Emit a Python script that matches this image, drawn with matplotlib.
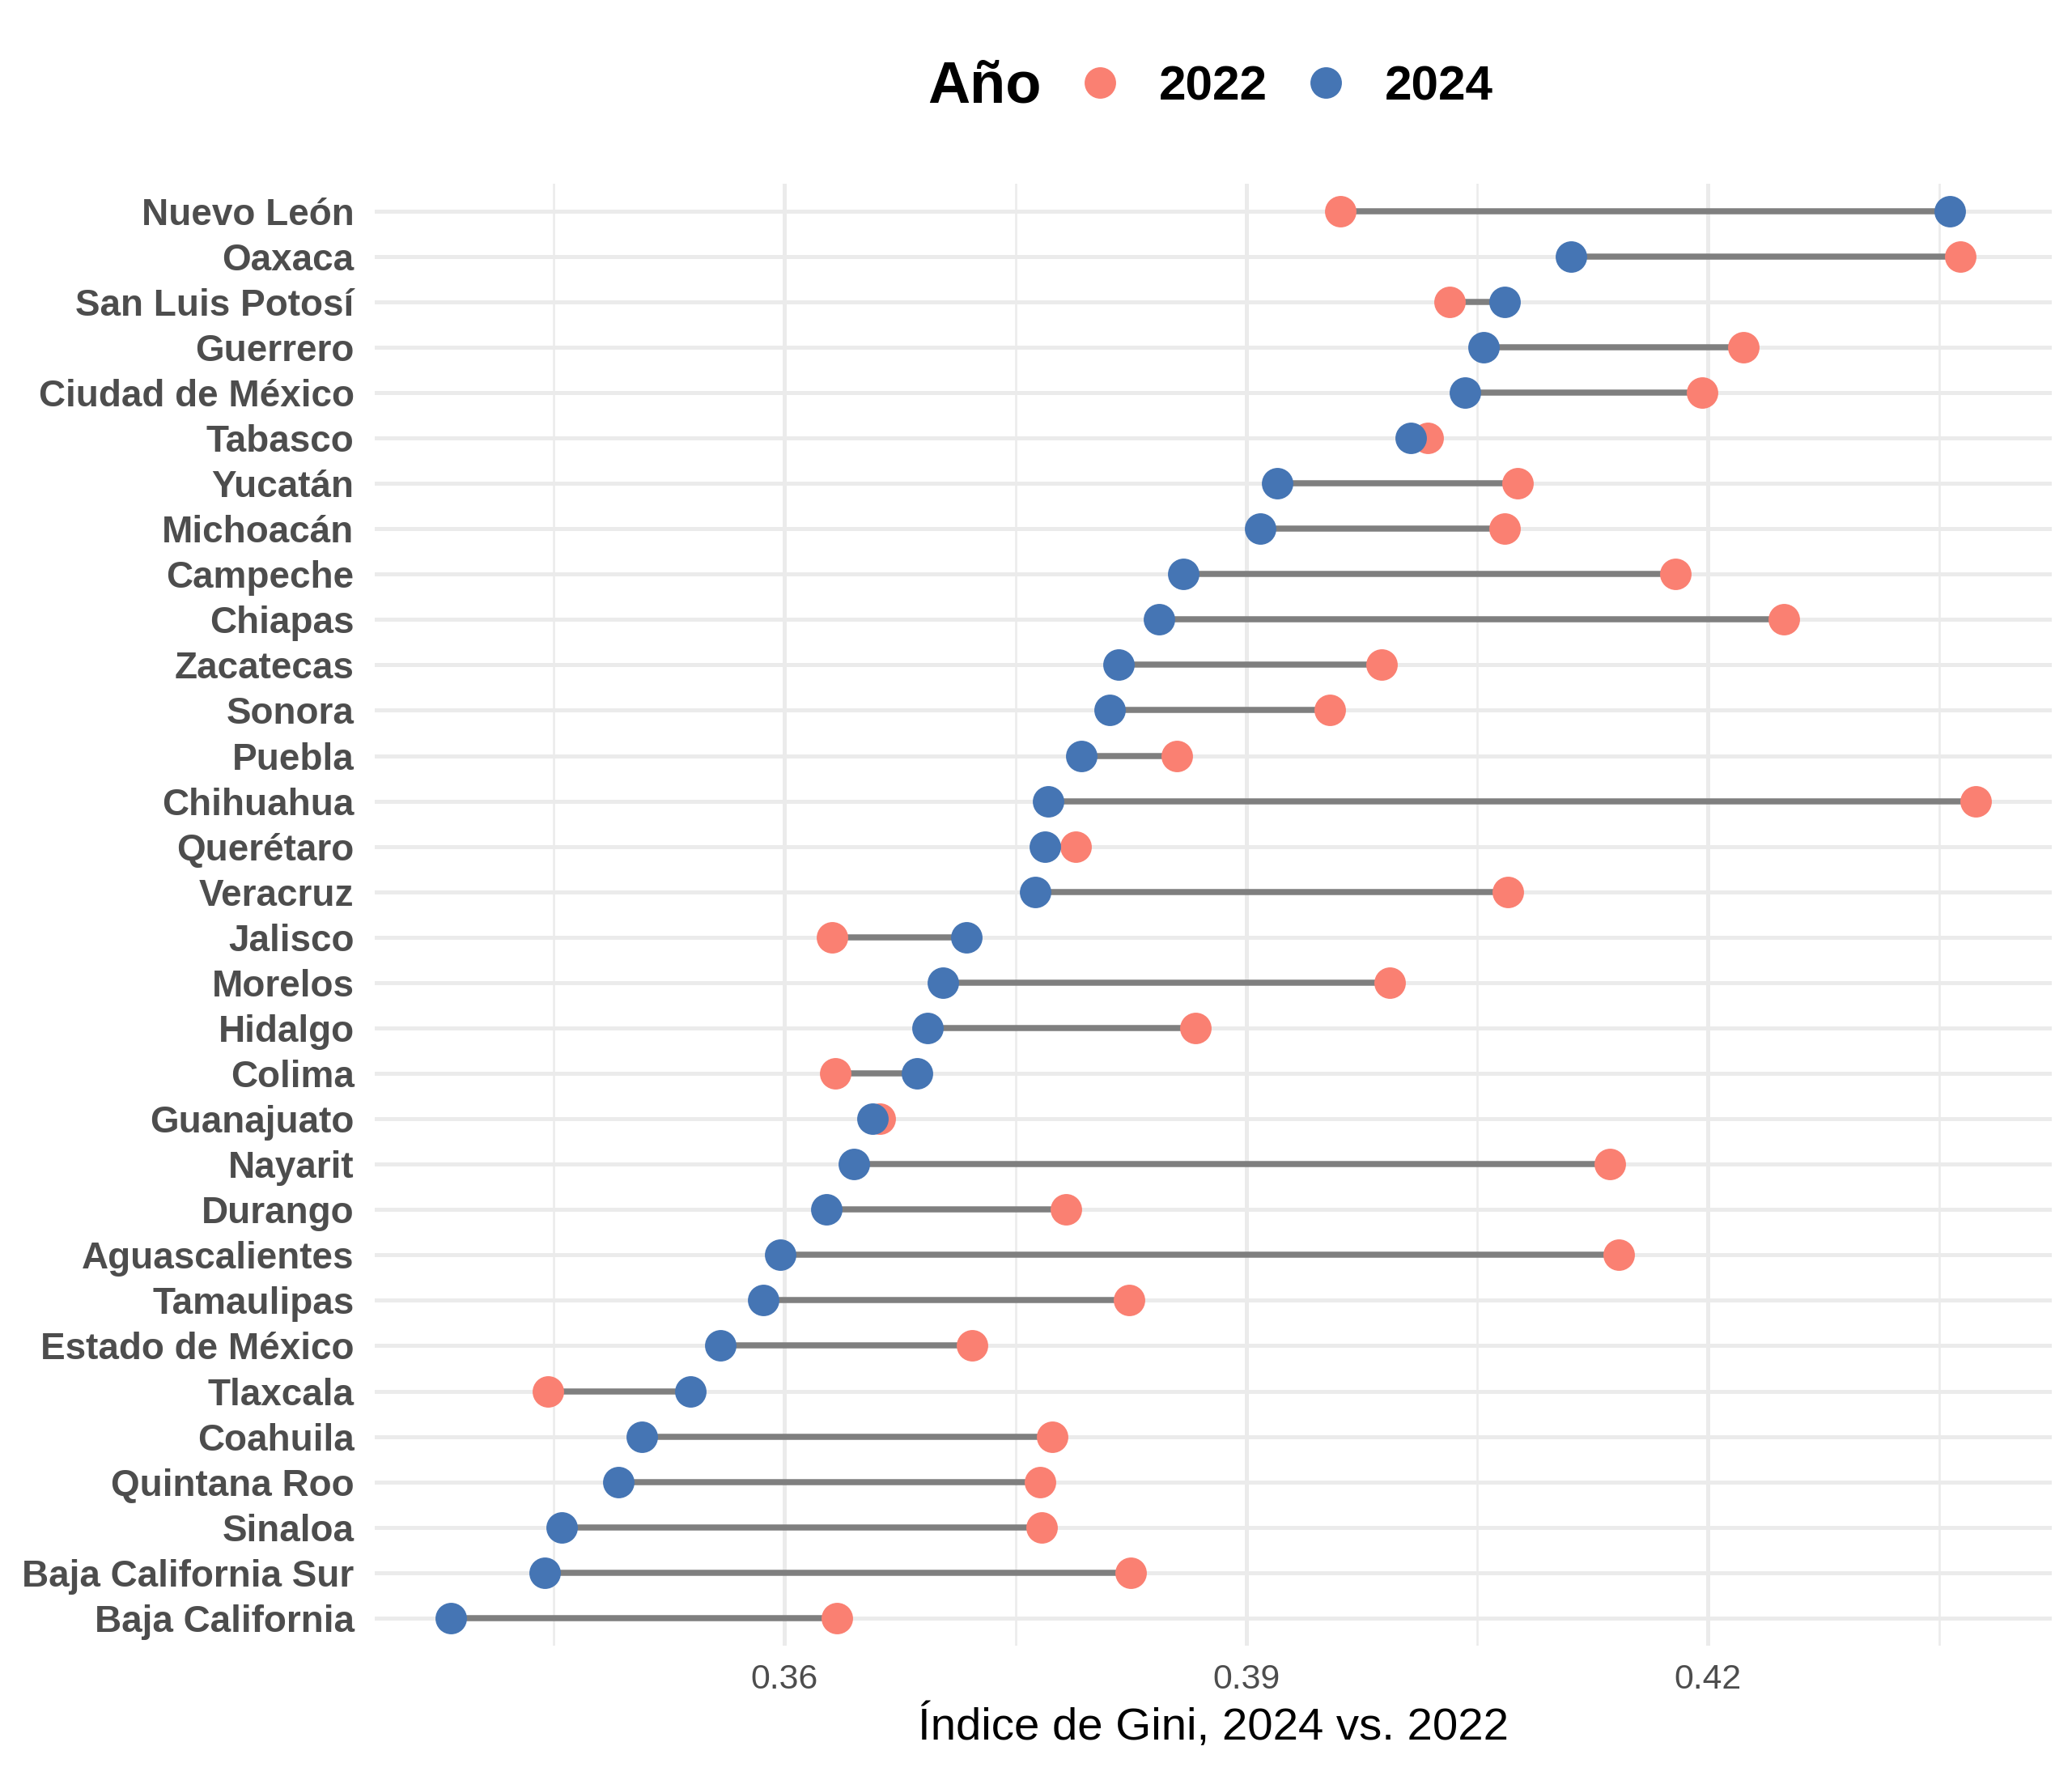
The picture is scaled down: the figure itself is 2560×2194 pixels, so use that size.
import numpy as np
import matplotlib.pyplot as plt
from matplotlib.lines import Line2D

# Datos: índice de Gini por entidad (orden de arriba hacia abajo)
estados = ["Nuevo León", "Oaxaca", "San Luis Potosí", "Guerrero", "Ciudad de México",
           "Tabasco", "Yucatán", "Michoacán", "Campeche", "Chiapas", "Zacatecas",
           "Sonora", "Puebla", "Chihuahua", "Querétaro", "Veracruz", "Jalisco",
           "Morelos", "Hidalgo", "Colima", "Guanajuato", "Nayarit", "Durango",
           "Aguascalientes", "Tamaulipas", "Estado de México", "Tlaxcala",
           "Coahuila", "Quintana Roo", "Sinaloa", "Baja California Sur",
           "Baja California"]
gini_2022 = [0.3961, 0.4364, 0.4032, 0.4223, 0.4196, 0.4018, 0.4076, 0.4068,
             0.4179, 0.4249, 0.3988, 0.3954, 0.3855, 0.4374, 0.3789, 0.4070,
             0.3631, 0.3993, 0.3867, 0.3633, 0.3662, 0.4136, 0.3783, 0.4142,
             0.3824, 0.3722, 0.3446, 0.3774, 0.3766, 0.3767, 0.3825, 0.3634]
gini_2024 = [0.4357, 0.4111, 0.4068, 0.4054, 0.4042, 0.4007, 0.3920, 0.3909,
             0.3859, 0.3843, 0.3817, 0.3811, 0.3793, 0.3771, 0.3769, 0.3763,
             0.3718, 0.3703, 0.3693, 0.3686, 0.3657, 0.3645, 0.3627, 0.3597,
             0.3586, 0.3558, 0.3539, 0.3507, 0.3492, 0.3455, 0.3444, 0.3383]
xticks = [0.36, 0.39, 0.42]
xticks_menores = [0.345, 0.375, 0.405, 0.435]

col_22 = "#FA8072"
col_24 = "#4575B4"
gris_txt = "#4D4D4D"

plt.rcParams['font.family'] = ['Liberation Sans', 'DejaVu Sans']

fig = plt.figure(figsize=(12.8, 10.97), dpi=200)
ax = fig.add_axes([0.1807, 0.0736, 0.8097, 0.8229])

n = len(estados)
y = np.arange(n)[::-1]

for xi, xf, yy in zip(gini_2022, gini_2024, y):
    ax.plot([xi, xf], [yy, yy], color="#7F7F7F", lw=2.7, solid_capstyle='butt', zorder=2)
ax.plot(gini_2022, y, 'o', color=col_22, ms=14, mew=0, zorder=3)
ax.plot(gini_2024, y, 'o', color=col_24, ms=14, mew=0, zorder=4)

# escalas
lo = min(min(gini_2022), min(gini_2024))
hi = max(max(gini_2022), max(gini_2024))
pad = (hi - lo) * 0.05
ax.set_xlim(lo - pad, hi + pad)
ax.set_ylim(-0.6, n - 1 + 0.6)

ax.set_yticks(y)
ax.set_yticklabels(estados, fontsize=16.5, fontweight='bold', color=gris_txt)
ax.set_xticks(xticks)
ax.set_xticklabels([f"{t:.2f}" for t in xticks], fontsize=15.4, color=gris_txt)
ax.set_xticks(xticks_menores, minor=True)
ax.tick_params(axis='both', which='both', length=0)
ax.tick_params(axis='y', pad=9)
ax.tick_params(axis='x', pad=8)

ax.grid(True, which='major', color="#EBEBEB", lw=1.8, zorder=0)
ax.grid(True, which='minor', axis='x', color="#EBEBEB", lw=0.9, zorder=0)
ax.set_axisbelow(True)
for s in ax.spines.values():
    s.set_visible(False)

ax.set_xlabel("Índice de Gini, 2024 vs. 2022", fontsize=20.3, color='black', labelpad=4)

# leyenda
fig.text(0.5025, 0.951, "Año", fontsize=26, fontweight='bold', ha='right', va='center')
handles = [Line2D([], [], marker='o', ls='', color=col_22, ms=14, mew=0),
           Line2D([], [], marker='o', ls='', color=col_24, ms=14, mew=0)]
leg = fig.legend(handles, ["2022", "2024"], loc='center left', bbox_to_anchor=(0.519, 0.951),
                 ncol=2, frameon=False, handlelength=1.0, handletextpad=0.71,
                 columnspacing=0.7, borderpad=0, borderaxespad=0,
                 prop={'size': 21.7, 'weight': 'bold'})

fig.savefig("out.png", dpi=200, facecolor='white')
